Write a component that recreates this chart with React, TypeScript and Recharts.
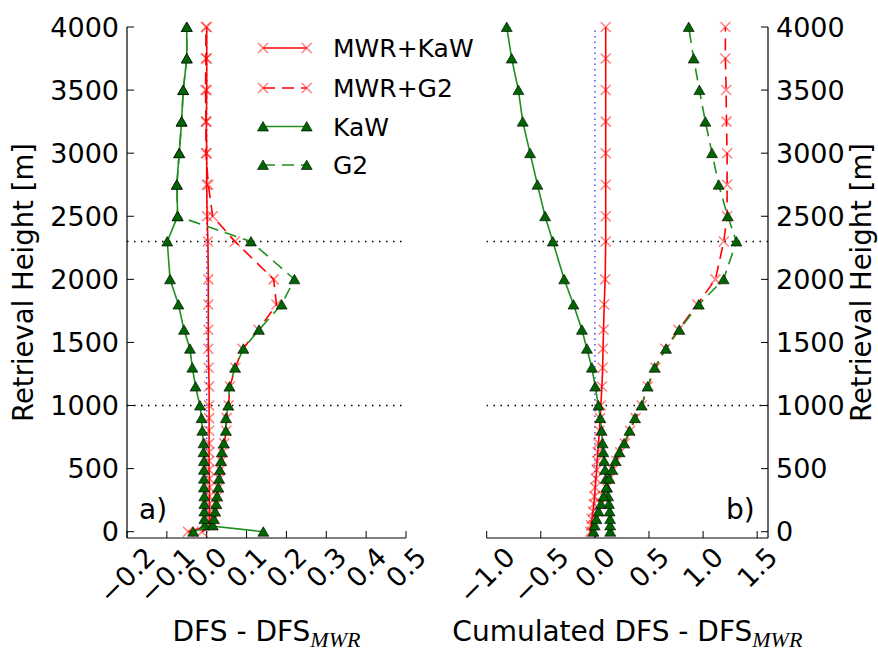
import React from "react";
import { ScatterChart, Scatter, XAxis, YAxis, ReferenceLine, Label } from "recharts";

// retrieval levels [m]
const heights = [0, 50, 100, 160, 220, 280, 350, 420, 490, 560, 630, 700, 800, 900, 1000, 1150, 1300, 1450, 1600, 1800, 2000, 2300, 2500, 2750, 3000, 3250, 3500, 3750, 4000];

// a) DFS - DFS_MWR per level
const dfsMwrKaW = [-0.047, 0.008, 0.007, 0.007, 0.007, 0.007, 0.007, 0.007, 0.006, 0.006, 0.006, 0.006, 0.006, 0.006, 0.006, 0.006, 0.005, 0.004, 0.004, 0.004, 0.004, 0.003, 0.001, 0.0, 0.0, -0.001, 0.0, 0.0, 0.0];
const dfsMwrG2 = [-0.012, 0.016, 0.019, 0.022, 0.025, 0.027, 0.03, 0.032, 0.034, 0.037, 0.04, 0.044, 0.049, 0.05, 0.055, 0.058, 0.072, 0.09, 0.13, 0.175, 0.168, 0.071, 0.015, 0.004, -0.002, -0.002, -0.003, -0.002, -0.002];
const dfsKaW = [0.142, -0.005, -0.006, -0.006, -0.006, -0.006, -0.007, -0.007, -0.007, -0.007, -0.008, -0.008, -0.011, -0.013, -0.017, -0.028, -0.036, -0.042, -0.057, -0.071, -0.092, -0.099, -0.073, -0.075, -0.069, -0.063, -0.059, -0.05, -0.05];
const dfsG2 = [-0.034, 0.015, 0.018, 0.021, 0.024, 0.026, 0.029, 0.031, 0.033, 0.036, 0.038, 0.043, 0.048, 0.048, 0.054, 0.057, 0.071, 0.092, 0.131, 0.188, 0.22, 0.111, -0.073, -0.075, -0.069, -0.063, -0.059, -0.05, -0.05];

// b) cumulated DFS - DFS_MWR
const cumMwrKaW = [-0.043, -0.035, -0.028, -0.018, -0.01, -0.003, 0.003, 0.01, 0.016, 0.021, 0.027, 0.033, 0.042, 0.048, 0.055, 0.065, 0.072, 0.075, 0.08, 0.086, 0.095, 0.1, 0.1, 0.1, 0.1, 0.1, 0.1, 0.1, 0.1];
const cumMwrG2 = [-0.025, -0.01, 0.008, 0.03, 0.054, 0.079, 0.106, 0.136, 0.166, 0.198, 0.234, 0.276, 0.326, 0.376, 0.432, 0.488, 0.56, 0.652, 0.771, 0.946, 1.114, 1.191, 1.222, 1.222, 1.222, 1.216, 1.213, 1.206, 1.206];
const cumKaW = [0.142, 0.141, 0.14, 0.136, 0.13, 0.122, 0.112, 0.102, 0.094, 0.086, 0.078, 0.071, 0.062, 0.05, 0.033, 0.003, -0.028, -0.074, -0.12, -0.198, -0.284, -0.389, -0.46, -0.531, -0.599, -0.667, -0.707, -0.769, -0.815];
const cumG2 = [-0.013, -0.002, 0.014, 0.034, 0.056, 0.08, 0.106, 0.134, 0.16, 0.19, 0.226, 0.27, 0.32, 0.37, 0.432, 0.487, 0.552, 0.657, 0.78, 0.96, 1.19, 1.308, 1.228, 1.144, 1.083, 1.021, 0.966, 0.913, 0.867];

const yTicks = [0, 500, 1000, 1500, 2000, 2500, 3000, 3500, 4000];
const xTicksLeft = [-0.2, -0.1, 0.0, 0.1, 0.2, 0.3, 0.4, 0.5];
const xTicksRight = [-1.0, -0.5, 0.0, 0.5, 1.0, 1.5];
const markLevels = [1000, 2300];

const FONT = "DejaVu Sans, sans-serif";
const RED = "#ff0000";
const GREEN = "#1f8f1f";
const DASH = "12 7";

const toPoints = (vals: number[]) => heights.map((h, i) => ({ h, v: vals[i] }));

const XMark = (props: any) => {
  const { cx, cy } = props;
  if (cx == null || cy == null) return null;
  return (
    <path
      d={`M${cx - 5},${cy - 5}L${cx + 5},${cy + 5}M${cx - 5},${cy + 5}L${cx + 5},${cy - 5}`}
      stroke={RED}
      strokeOpacity={0.5}
      strokeWidth={1.5}
      fill="none"
    />
  );
};

const TriMark = (props: any) => {
  const { cx, cy } = props;
  if (cx == null || cy == null) return null;
  return (
    <path
      d={`M${cx},${cy - 5}L${cx + 5.5},${cy + 4.5}L${cx - 5.5},${cy + 4.5}Z`}
      fill="#006400"
      stroke="#000"
      strokeWidth={0.6}
    />
  );
};

const fmt = (v: number) => (v < -1e-9 ? "\u2212" : "") + Math.abs(v).toFixed(1);

const RotTick = (props: any) => {
  const { x, y, payload } = props;
  const s = fmt(payload.value);
  let w = 0;
  for (const c of s) w += (c === "\u2212" ? 0.838 : c === "." ? 0.318 : 0.636) * 27;
  const cy = y + (w + 20) * 0.3536;
  return (
    <text x={x} y={cy} textAnchor="middle" dominantBaseline="central" transform={`rotate(-45 ${x} ${cy})`} fontSize={27} fontFamily={FONT} fill="#000">
      {s}
    </text>
  );
};

const xTitle = (main: string) => (props: any) => {
  const vb = props.viewBox || { x: 0, y: 0, width: 0 };
  return (
    <text x={vb.x + vb.width / 2} y={vb.y + 103} textAnchor="middle" fontSize={28} fontFamily={FONT} fill="#000">
      {main}
      <tspan fontFamily="Liberation Serif, serif" fontStyle="italic" fontSize={22} dy={6}>MWR</tspan>
    </text>
  );
};

const yTitle = (side: "left" | "right") => (props: any) => {
  const vb = props.viewBox || { x: 0, y: 0, width: 0, height: 0 };
  const x = side === "left" ? vb.x + 6 : vb.x + 103;
  const y = vb.y + vb.height / 2;
  return (
    <text x={x} y={y} textAnchor="middle" transform={`rotate(-90 ${x} ${y})`} fontSize={27.5} fontFamily={FONT} fill="#000">
      Retrieval Height [m]
    </text>
  );
};

const tickStyle = { fontSize: 27, fill: "#000", fontFamily: FONT };
const axisLine = { stroke: "#000", strokeWidth: 1.2 };
const tickLine = { stroke: "#000", strokeWidth: 1 };

const Panel = ({ side, series, xDomain, xTicks, title }: any) => {
  const isLeft = side === "left";
  return (
    <ScatterChart
      width={isLeft ? 440 : 438}
      height={651}
      margin={isLeft ? { top: 27, right: 34, bottom: 13, left: 27 } : { top: 27, right: 10, bottom: 13, left: 46.7 }}
    >
      <XAxis
        type="number"
        dataKey="v"
        domain={xDomain}
        ticks={xTicks}
        interval={0}
        height={100}
        tickSize={-7}
        tickMargin={14}
        tick={<RotTick />}
        axisLine={axisLine}
        tickLine={tickLine}
      >
        <Label content={xTitle(title)} />
      </XAxis>
      <YAxis
        type="number"
        dataKey="h"
        orientation={isLeft ? "left" : "right"}
        domain={[-50, 4000]}
        ticks={yTicks}
        interval={0}
        width={100}
        tickSize={-7}
        tickMargin={15}
        tick={tickStyle}
        axisLine={axisLine}
        tickLine={tickLine}
      >
        <Label content={yTitle(side)} />
      </YAxis>
      {markLevels.map((m) => (
        <ReferenceLine key={m} y={m} stroke="#000" strokeWidth={1.3} strokeDasharray="1.5 5.5" />
      ))}
      <ReferenceLine x={0} stroke="#0000ff" strokeOpacity={0.7} strokeWidth={1.5} strokeDasharray="1.5 4" />
      <Scatter data={toPoints(series[0])} shape={<XMark />} line={{ stroke: RED, strokeWidth: 1.6 }} isAnimationActive={false} />
      <Scatter data={toPoints(series[1])} shape={<XMark />} line={{ stroke: RED, strokeWidth: 1.6, strokeDasharray: DASH }} isAnimationActive={false} />
      <Scatter data={toPoints(series[2])} shape={<TriMark />} line={{ stroke: GREEN, strokeWidth: 1.6 }} isAnimationActive={false} />
      <Scatter data={toPoints(series[3])} shape={<TriMark />} line={{ stroke: GREEN, strokeWidth: 1.6, strokeDasharray: DASH }} isAnimationActive={false} />
    </ScatterChart>
  );
};

const legendItems = [
  { name: "MWR+KaW", color: RED, dash: undefined, mark: "x" },
  { name: "MWR+G2", color: RED, dash: DASH, mark: "x" },
  { name: "KaW", color: GREEN, dash: undefined, mark: "tri" },
  { name: "G2", color: GREEN, dash: DASH, mark: "tri" },
];
const legendRows = [48, 88, 126.5, 165];

export default function App() {
  return (
    <div style={{ position: "absolute", left: 0, top: 0, width: 878, height: 651, background: "#fff" }}>
      <div style={{ position: "absolute", left: 0, top: 0 }}>
        <Panel side="left" series={[dfsMwrKaW, dfsMwrG2, dfsKaW, dfsG2]} xDomain={[-0.2, 0.5]} xTicks={xTicksLeft} title="DFS - DFS" />
      </div>
      <div style={{ position: "absolute", left: 440, top: 0 }}>
        <Panel side="right" series={[cumMwrKaW, cumMwrG2, cumKaW, cumG2]} xDomain={[-1.0, 1.6]} xTicks={xTicksRight} title="Cumulated DFS - DFS" />
      </div>
      <svg width={878} height={651} style={{ position: "absolute", left: 0, top: 0, pointerEvents: "none" }}>
        {legendItems.map((it, i) => {
          const y = legendRows[i];
          const M = it.mark === "x" ? XMark : TriMark;
          return (
            <g key={it.name}>
              <line x1={263} y1={y} x2={306.7} y2={y} stroke={it.color} strokeWidth={1.6} strokeDasharray={it.dash} />
              <M cx={263} cy={y} />
              <M cx={306.7} cy={y} />
              <text x={333} y={y + 9} fontSize={25} fontFamily={FONT} fill="#000">{it.name}</text>
            </g>
          );
        })}
        <text x={139} y={519} fontSize={28} fontFamily={FONT} fill="#000">a)</text>
        <text x={726} y={519} fontSize={28} fontFamily={FONT} fill="#000">b)</text>
      </svg>
    </div>
  );
}
